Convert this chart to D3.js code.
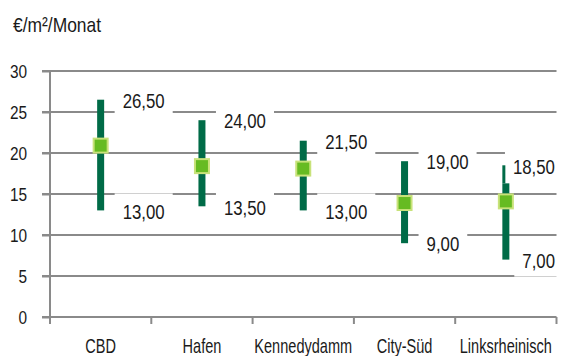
<!DOCTYPE html>
<html>
<head>
<meta charset="utf-8">
<script src="https://cdn.jsdelivr.net/npm/d3@7"></script>
<style>
  html, body { margin: 0; padding: 0; background: #ffffff; }
  svg { display: block; }
  text { font-family: "Liberation Sans", Arial, sans-serif; fill: #1a1a1a; }
</style>
</head>
<body>
<svg id="chart" width="571" height="356"></svg>
<script>
// ---- data ----
const categories = ["CBD", "Hafen", "Kennedydamm", "City-Süd", "Linksrheinisch"];
const maxValues  = [26.5, 24.0, 21.5, 19.0, 18.5];
const minValues  = [13.0, 13.5, 13.0, 9.0, 7.0];
// top of the full-width part of each range bar (Linksrheinisch has a narrow tip above it)
const barTops    = [26.5, 24.0, 21.5, 19.0, 16.3];
const avgValues  = [20.9, 18.4, 18.1, 13.9, 14.1];
const yTicks     = [0, 5, 10, 15, 20, 25, 30];
const unitLabel  = "€/m²/Monat";
const fmt = v => v.toFixed(2).replace(".", ",");

// condensed look: place a text at (px, py) and squeeze it horizontally by k
function placeCondensed(sel, px, py, k) {
  sel.attr("x", 0).attr("y", 0).attr("dy", null)
     .attr("transform", `translate(${px},${py}) scale(${k},1)`);
}

// ---- layout ----
const svg = d3.select("#chart");
const mLeft = 50, mRight = 556.5, mTop = 71, mBottom = 317;
const x = d3.scaleBand().domain(categories).range([mLeft, mRight]).padding(0);
const y = d3.scaleLinear().domain([0, 30]).range([mBottom, mTop]);

const gray = "#8a8a8a";
const barColor = "#006b47";
const markFill = "#66bb22";
const markStroke = "#c8e27a";

// grid lines
svg.append("g").selectAll("line").data(yTicks.filter(t => t > 0)).join("line")
  .attr("x1", mLeft - 8).attr("x2", mRight)
  .attr("y1", d => y(d)).attr("y2", d => y(d))
  .attr("stroke", gray).attr("stroke-width", 2);

// y axis
const yAxis = svg.append("g").attr("transform", `translate(${mLeft},0)`)
  .call(d3.axisLeft(y).tickValues(yTicks).tickSize(8).tickFormat(d3.format("d")));
yAxis.select(".domain").remove();
yAxis.selectAll(".tick line").attr("stroke", gray).attr("stroke-width", 2);
yAxis.selectAll(".tick text").attr("font-size", 17.5).attr("fill", "#1a1a1a")
  .attr("font-family", "Liberation Sans, Arial, sans-serif")
  .each(function () { placeCondensed(d3.select(this), -23, 6.3, 0.88); });
svg.append("line").attr("x1", mLeft).attr("x2", mLeft).attr("y1", mTop).attr("y2", mBottom + 7)
  .attr("stroke", gray).attr("stroke-width", 2);

// x axis
const xAxis = svg.append("g").attr("transform", `translate(0,${mBottom})`)
  .call(d3.axisBottom(x).tickSize(0));
xAxis.select(".domain").remove();
xAxis.selectAll(".tick text").attr("font-size", 20.5).attr("fill", "#1a1a1a")
  .attr("font-family", "Liberation Sans, Arial, sans-serif")
  .each(function () { placeCondensed(d3.select(this), 0, 35.5, 0.71); });
svg.append("line").attr("x1", mLeft - 8).attr("x2", mRight).attr("y1", mBottom).attr("y2", mBottom)
  .attr("stroke", gray).attr("stroke-width", 2);
const bounds = categories.map(c => x(c)).concat([mRight]);
svg.append("g").selectAll("line").data(bounds).join("line")
  .attr("x1", d => d).attr("x2", d => d).attr("y1", mBottom).attr("y2", mBottom + 7)
  .attr("stroke", gray).attr("stroke-width", 2);

// unit label
svg.append("text").attr("font-size", 20.5).text(unitLabel).call(placeCondensed, 13, 32, 0.85);

// ---- value labels with white boxes ----
const rows = categories.map((c, i) => ({
  c, max: maxValues[i], min: minValues[i], barTop: barTops[i], avg: avgValues[i],
  cx: x(c) + x.bandwidth() / 2
}));
const labelLimit = 555;
const kLabel = 0.8;
const labelData = [];
rows.forEach(r => {
  labelData.push({ cx: r.cx, v: r.max });
  labelData.push({ cx: r.cx, v: r.min });
});
const lg = svg.append("g");
labelData.forEach(d => {
  const g = lg.append("g");
  const rect = g.append("rect").attr("fill", "#ffffff");
  const t = g.append("text").attr("font-size", 21).text(fmt(d.v));
  const w = t.node().getComputedTextLength() * kLabel;
  const tx = Math.min(d.cx + 22, labelLimit - w);
  placeCondensed(t, tx, y(d.v) + 8.2, kLabel);
  rect.attr("x", tx - 8).attr("width", w + 16)
    .attr("y", y(d.v) - 17).attr("height", 34);
});

// ---- range bars ----
const bw = 7;
svg.append("g").selectAll("rect").data(rows).join("rect")
  .attr("x", d => d.cx - bw / 2).attr("width", bw)
  .attr("y", d => y(d.barTop)).attr("height", d => y(d.min) - y(d.barTop))
  .attr("fill", barColor);
svg.append("g").selectAll("rect").data(rows.filter(d => d.max > d.barTop)).join("rect")
  .attr("x", d => d.cx - bw / 2).attr("width", 3)
  .attr("y", d => y(d.max)).attr("height", d => y(d.barTop) - y(d.max))
  .attr("fill", barColor);

// ---- average markers ----
const ms = 14;
svg.append("g").selectAll("rect").data(rows).join("rect")
  .attr("x", d => d.cx - ms / 2).attr("y", d => y(d.avg) - ms / 2)
  .attr("width", ms).attr("height", ms)
  .attr("fill", markFill).attr("stroke", markStroke).attr("stroke-width", 2);
</script>
</body>
</html>
